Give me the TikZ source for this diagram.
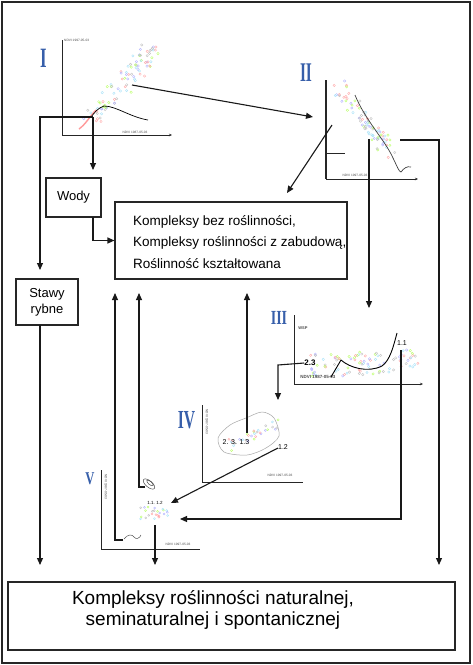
\documentclass[tikz,border=0pt]{standalone}
\usepackage{fontspec}
\setmainfont{Liberation Sans}
\newfontfamily\numfont{Liberation Serif}
\usetikzlibrary{arrows.meta,calc}
\definecolor{numblue}{RGB}{55,95,170}
\colorlet{dc0}{black!25}
\colorlet{dc1}{red!35}
\colorlet{dc2}{blue!30}
\colorlet{dc3}{green!45!yellow!60}
\colorlet{dc4}{cyan!35}
\begin{document}
\begin{tikzpicture}[x=1pt,y=-1pt,
  conn/.style={line width=1.1pt, draw=black!90},
  arr/.style={conn, -{Triangle[length=7pt,width=6pt]}},
  axisline/.style={line width=0.8pt, draw=black!85},
  axisarr/.style={axisline, -{Stealth[length=3pt,width=2.5pt]}},
  boxnode/.style={draw=black!85, line width=1.1pt, inner sep=0pt},
  roman/.style={text=numblue, font=\numfont\bfseries\fontsize{#1}{#1}\selectfont, inner sep=0pt},
  tiny/.style={font=\fontsize{3.2}{3.5}\selectfont, inner sep=0pt, text=black!70},
  lab/.style={font=\fontsize{7}{8}\selectfont, inner sep=0pt},
  dot/.style={line width=0.35pt}
]
\useasboundingbox (0,0) rectangle (472,665);
\fill[white] (0,0) rectangle (472,665);
\draw[line width=2pt, black!85] (2,2) rectangle (470,663);

% ---------- boxes ----------
\node[boxnode, minimum width=55pt, minimum height=39pt, font=\fontsize{13}{15}\selectfont] (wody) at (73.5,197.5) {Wody};
\node[boxnode, minimum width=62pt, minimum height=46pt, align=center, font=\fontsize{13}{16}\selectfont] (stawy) at (47,302) {Stawy\\rybne};
\node[boxnode, minimum width=232pt, minimum height=77pt] (mid) at (231,240.5) {};
\node[anchor=west, inner sep=0pt, font=\fontsize{13.5}{15}\selectfont] (m1) at (133,222) {Kompleksy bez roślinności,};
\node[anchor=west, inner sep=0pt, font=\fontsize{13.5}{15}\selectfont] (m2) at (133,243) {Kompleksy roślinności z zabudową,};
\node[anchor=west, inner sep=0pt, font=\fontsize{13.5}{15}\selectfont] (m3) at (133,264) {Roślinność kształtowana};
\node[boxnode, minimum width=447pt, minimum height=68pt] (bot) at (231.5,616) {};
\node[align=center, inner sep=0pt, font=\fontsize{19}{20.5}\selectfont] (bt) at (213,610) {Kompleksy roślinności naturalnej,\\seminaturalnej i spontanicznej};

% ---------- scatter clouds ----------
\pgfmathsetseed{1201}
\foreach \i in {1,...,90}{
  \pgfmathsetmacro\t{rnd}\pgfmathsetmacro\ra{rand}\pgfmathsetmacro\rb{rand}
  \pgfmathtruncatemacro\c{mod(\i,5)}
  \draw[dot, draw=dc\c] ({86+68*\t+9*\ra},{124-74*\t+9*\rb}) circle (1.2);
}
\pgfmathsetseed{2202}
\foreach \i in {1,...,80}{
  \pgfmathsetmacro\t{rnd}\pgfmathsetmacro\ra{rand}\pgfmathsetmacro\rb{rand}
  \pgfmathtruncatemacro\c{mod(\i,5)}
  \draw[dot, draw=dc\c] ({336+55*\t+8*\ra},{86+66*\t+7*\rb}) circle (1.2);
}
\pgfmathsetseed{3303}
\foreach \i in {1,...,90}{
  \pgfmathsetmacro\t{rnd}\pgfmathsetmacro\ra{rand}\pgfmathsetmacro\rb{rand}
  \pgfmathtruncatemacro\c{mod(\i,5)}
  \draw[dot, draw=dc\c] ({310+108*\t},{365+12*\ra-6*\t*\t}) circle (1.2);
}
\pgfmathsetseed{4404}
\foreach \i in {1,...,30}{
  \pgfmathsetmacro\t{rnd}\pgfmathsetmacro\ra{rand}\pgfmathsetmacro\rb{rand}
  \pgfmathtruncatemacro\c{mod(\i,5)}
  \draw[dot, draw=dc\c] ({228+48*\t+4*\ra},{446-22*\t+5*\rb}) circle (1.1);
}
\pgfmathsetseed{5505}
\foreach \i in {1,...,25}{
  \pgfmathsetmacro\t{rnd}\pgfmathsetmacro\ra{rand}\pgfmathsetmacro\rb{rand}
  \pgfmathtruncatemacro\c{mod(\i,5)}
  \draw[dot, draw=dc\c] ({138+30*\t},{513+6*\ra}) circle (1.0);
}

% ---------- plot I ----------
\draw[axisarr] (62,40) |- (172,135);
\node[roman=28, xscale=0.6] (nI) at (43.5,58) {I};
\node[tiny, anchor=west] (aI1) at (64,40) {NDVI 1997-05-03};
\node[tiny] (aI2) at (135,132) {NDVI 1987-05-03};
\draw[red!40, line width=1.4pt] (79,129) .. controls (86,124) and (90,116) .. (96,110);
\draw[line width=0.7pt] (91,117) .. controls (95,112) and (98,108) .. (104,106) .. controls (116,106) and (130,117) .. (148,120);

% ---------- plot II ----------
\draw[line width=1.1pt, black!85] (326,80) -- (326,179);
\draw[axisarr] (326,179) -- (418,179);
\draw[axisline, line width=0.6pt] (326,153) -- (345,153);
\node[roman=27, xscale=0.57] (nII) at (306,73) {II};
\node[tiny] (aII) at (355,175) {NDVI 1997-05-03};
\draw[line width=0.7pt, black!75] (355,95) .. controls (365,120) and (385,140) .. (393,158) .. controls (397,166) and (399,172) .. (401,172) .. controls (404,168) and (407,166) .. (411,167);

% ---------- plot III ----------
\draw[axisline] (294,315) -- (294,384);
\draw[axisarr] (294,384) -- (423,384);
\node[roman=20, xscale=0.7] (nIII) at (279,318) {III};
\node[tiny, font=\fontsize{4}{4}\selectfont\bfseries] (wsp) at (303,328) {WSP};
\node[tiny, font=\fontsize{4.5}{5}\selectfont\bfseries] (aIII) at (318,377) {NDVI 1987-05-03};
\node[lab, font=\fontsize{8}{9}\selectfont\bfseries] (l23) at (310,363) {2.3};
\node[lab] (l11) at (402,343) {1.1};
\draw[line width=0.9pt] (331,377) -- (341,360) .. controls (350,368) and (368,373) .. (382,366) .. controls (390,360) and (393,348) .. (397,333);

% ---------- plot IV ----------
\draw[axisline] (202,405) -- (202,482) -- (303,482);
\node[roman=26, xscale=0.6] (nIV) at (186.5,420) {IV};
\node[tiny, rotate=-90] (aIV1) at (207,422) {NDVI 1987-05-03};
\node[tiny] (aIV2) at (280,475) {NDVI 1997-05-03};
\draw[black!35, line width=0.5pt] plot[smooth cycle] coordinates {(218,438) (230,425) (246,418) (262,412) (274,418) (279,436) (266,448) (247,455) (224,452)};
\node[lab] (l2313) at (236,442) {2. 3. 1.3};
\node[lab] (l12) at (283,447) {1.2};

% ---------- plot V ----------
\draw[axisline] (101,470) -- (101,549) -- (200,549);
\node[roman=18, xscale=0.7] (nV) at (90,479) {V};
\node[tiny, rotate=-90] (aV1) at (106,487) {NDVI 1987-05-03};
\node[tiny] (aV2) at (178,544) {NDVI 1997-05-03};
\node[lab, font=\fontsize{4.5}{5}\selectfont] (l1112) at (155,503) {1.1. 1.2};
\draw[line width=0.5pt, black!70, rotate around={-40:(149,484)}] (149,484) ellipse (7 and 3.2);
\draw[line width=0.5pt, black!70, rotate around={-40:(150,483)}] (150,483) ellipse (4 and 1.6);
\draw[line width=0.5pt, black!70] (124,539) .. controls (128,534) and (132,534) .. (134,537) .. controls (136,540) and (140,538) .. (141,535);

% ---------- connector points ----------
\coordinate (pI) at (132,85);
\coordinate (pII) at (313,117);
\coordinate (jI) at (93,117);
\coordinate (lc) at (40,117);
\coordinate (sa) at (40,270);
\coordinate (wa) at (93,170);
\coordinate (wb) at (93,217);
\coordinate (sb) at (40,325);
\coordinate (b1) at (40,565);
\coordinate (pII2) at (332,125);
\coordinate (mt) at (287,193);
\coordinate (pII3) at (400,140);
\coordinate (rc) at (439,140);
\coordinate (b3) at (439,565);
\coordinate (pII4) at (369,139);
\coordinate (t3) at (369,308);
\coordinate (c23) at (278,365);
\coordinate (t4) at (278,400);
\coordinate (c11) at (401,350);
\coordinate (k11) at (401,519);
\coordinate (t5) at (180,519);
\coordinate (u3) at (247,433);
\coordinate (mu3) at (247,293);
\coordinate (p12) at (278,448);
\coordinate (v12) at (171,503);
\coordinate (va) at (123,540);
\coordinate (vak) at (115,540);
\coordinate (mu1) at (115,293);
\coordinate (vb) at (145,487);
\coordinate (vbk) at (139,487);
\coordinate (mu2) at (139,293);
\coordinate (vd) at (155,525);
\coordinate (b2) at (155,565);

% ---------- connectors ----------
\draw[arr] (pI) -- (pII);
\draw[arr] (jI) -- (lc) -- (sa);
\draw[arr] (jI) -- (wa);
\draw[arr] (wb) |- (mid.west);
\draw[arr] (sb) -- (b1);
\draw[arr] (pII2) -- (mt);
\draw[arr] (pII3) -- (rc) -- (b3);
\draw[arr] (pII4) -- (t3);
\draw[arr] (l23.west) -- (c23) -- (t4);
\draw[arr] (c11) -- (k11) -- (t5);
\draw[arr] (u3) -- (mu3);
\draw[arr] (p12) -- (v12);
\draw[arr] (va) -- (vak) -- (mu1);
\draw[arr] (vb) -- (vbk) -- (mu2);
\draw[arr] (vd) -- (b2);
\end{tikzpicture}
\end{document}
